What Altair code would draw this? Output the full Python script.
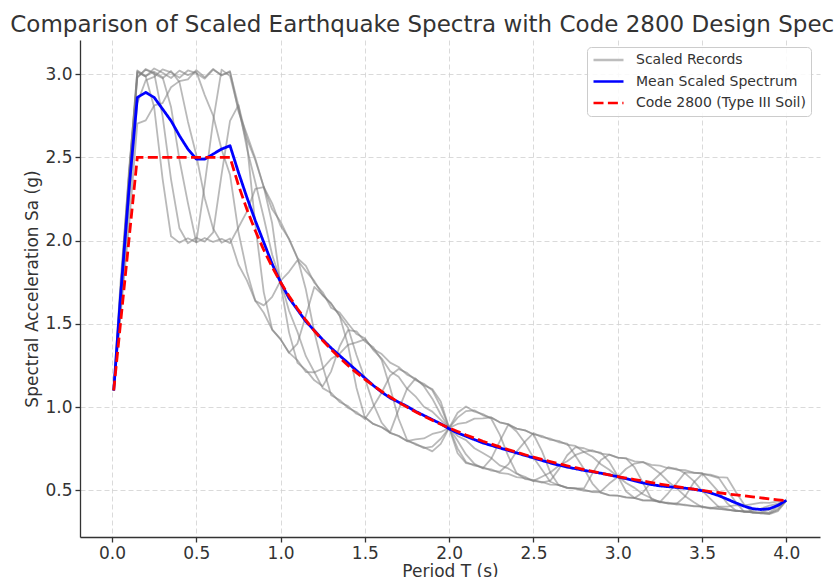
import altair as alt
import pandas as pd

# Periods (s) shared by all spectra
periods = [0.01, 0.05, 0.10, 0.15, 0.20, 0.25, 0.30, 0.35, 0.40, 0.45,
           0.50, 0.55, 0.60, 0.65, 0.70, 0.75, 0.80, 0.85, 0.90, 0.95,
           1.00, 1.05, 1.10, 1.15, 1.20, 1.25, 1.30, 1.35, 1.40, 1.45,
           1.50, 1.55, 1.60, 1.65, 1.70, 1.75, 1.80, 1.85, 1.90, 1.95,
           2.00, 2.05, 2.10, 2.15, 2.20, 2.25, 2.30, 2.35, 2.40, 2.45,
           2.50, 2.55, 2.60, 2.65, 2.70, 2.75, 2.80, 2.85, 2.90, 2.95,
           3.00, 3.05, 3.10, 3.15, 3.20, 3.25, 3.30, 3.35, 3.40, 3.45,
           3.50, 3.55, 3.60, 3.65, 3.70, 3.75, 3.80, 3.85, 3.90, 3.95,
           4.00]

# Scaled record spectra Sa (g)
record_1 = [1.100, 1.548, 2.081, 2.703, 2.722, 2.812, 2.826, 2.921, 2.958, 2.969,
            3.024, 2.981, 3.031, 2.992, 3.018, 2.776, 2.638, 2.494, 2.321, 2.188,
            2.114, 2.007, 1.894, 1.848, 1.747, 1.690, 1.597, 1.568, 1.502, 1.439,
            1.414, 1.343, 1.292, 1.216, 1.182, 1.111, 1.065, 1.002, 0.973, 0.923,
            0.875, 0.827, 0.802, 0.753, 0.724, 0.694, 0.650, 0.632, 0.600, 0.582,
            0.555, 0.551, 0.535, 0.533, 0.513, 0.510, 0.504, 0.489, 0.488, 0.470,
            0.469, 0.459, 0.455, 0.439, 0.440, 0.432, 0.421, 0.422, 0.410, 0.407,
            0.404, 0.394, 0.402, 0.403, 0.412, 0.410, 0.418, 0.426, 0.425, 0.434,
            0.438]
record_2 = [1.100, 1.562, 2.205, 2.826, 2.963, 2.984, 3.029, 3.011, 2.978, 3.022,
            3.006, 2.973, 3.027, 2.995, 3.012, 2.812, 2.556, 2.351, 2.139, 1.915,
            1.758, 1.579, 1.452, 1.306, 1.211, 1.114, 1.085, 1.031, 1.006, 0.960,
            0.939, 0.899, 0.879, 0.845, 0.826, 0.796, 0.806, 0.812, 0.839, 0.851,
            0.875, 0.899, 0.907, 0.931, 0.932, 0.938, 0.909, 0.898, 0.871, 0.861,
            0.837, 0.828, 0.803, 0.797, 0.774, 0.767, 0.731, 0.702, 0.657, 0.624,
            0.583, 0.544, 0.515, 0.477, 0.453, 0.428, 0.426, 0.415, 0.414, 0.404,
            0.402, 0.391, 0.391, 0.381, 0.380, 0.371, 0.382, 0.390, 0.409, 0.420,
            0.438]
record_3 = [1.100, 1.616, 2.258, 3.011, 2.986, 3.034, 3.008, 2.977, 3.021, 2.994,
            3.015, 2.874, 2.751, 2.547, 2.396, 2.052, 1.815, 1.639, 1.567, 1.465,
            1.408, 1.327, 1.281, 1.211, 1.209, 1.232, 1.290, 1.321, 1.374, 1.389,
            1.407, 1.349, 1.319, 1.267, 1.241, 1.195, 1.171, 1.126, 1.051, 0.956,
            0.875, 0.798, 0.716, 0.659, 0.633, 0.626, 0.605, 0.599, 0.580, 0.574,
            0.557, 0.582, 0.607, 0.648, 0.675, 0.713, 0.731, 0.741, 0.721, 0.715,
            0.697, 0.692, 0.674, 0.670, 0.640, 0.603, 0.552, 0.512, 0.465, 0.430,
            0.398, 0.396, 0.387, 0.386, 0.376, 0.375, 0.366, 0.368, 0.385, 0.414,
            0.438]
record_4 = [1.100, 1.628, 2.371, 2.982, 3.026, 3.003, 2.975, 3.019, 2.952, 2.716,
            2.514, 2.255, 2.072, 1.987, 2.013, 1.855, 1.761, 1.638, 1.611, 1.662,
            1.759, 1.813, 1.882, 1.817, 1.758, 1.672, 1.623, 1.549, 1.477, 1.313,
            1.172, 1.019, 0.906, 0.845, 0.828, 0.796, 0.781, 0.754, 0.763, 0.810,
            0.875, 0.937, 0.976, 0.981, 0.951, 0.937, 0.909, 0.897, 0.854, 0.784,
            0.697, 0.626, 0.552, 0.531, 0.516, 0.512, 0.497, 0.494, 0.494, 0.541,
            0.580, 0.630, 0.661, 0.670, 0.653, 0.649, 0.633, 0.630, 0.602, 0.557,
            0.498, 0.449, 0.399, 0.386, 0.376, 0.375, 0.366, 0.366, 0.368, 0.404,
            0.438]
record_5 = [1.100, 1.684, 2.386, 3.022, 2.989, 3.015, 2.981, 2.803, 2.486, 2.227,
            1.989, 2.016, 1.992, 2.011, 1.985, 2.079, 2.174, 2.311, 2.322, 2.224,
            2.089, 2.012, 1.897, 1.706, 1.451, 1.246, 1.071, 1.043, 0.995, 0.971,
            0.929, 1.004, 1.088, 1.189, 1.229, 1.206, 1.162, 1.140, 1.101, 1.005,
            0.875, 0.752, 0.670, 0.648, 0.639, 0.619, 0.612, 0.656, 0.733, 0.793,
            0.844, 0.820, 0.811, 0.789, 0.781, 0.706, 0.628, 0.541, 0.485, 0.472,
            0.469, 0.457, 0.454, 0.489, 0.550, 0.597, 0.639, 0.624, 0.621, 0.606,
            0.603, 0.547, 0.489, 0.422, 0.380, 0.371, 0.370, 0.362, 0.361, 0.390,
            0.438]
record_6 = [1.100, 1.692, 2.417, 2.979, 3.031, 3.006, 2.748, 2.368, 2.074, 1.984,
            2.017, 1.994, 2.049, 2.398, 2.719, 2.814, 2.611, 2.483, 2.324, 2.104,
            1.741, 1.449, 1.266, 1.224, 1.161, 1.126, 1.215, 1.364, 1.463, 1.455,
            1.394, 1.360, 1.281, 1.115, 0.930, 0.804, 0.775, 0.760, 0.734, 0.779,
            0.875, 0.966, 1.004, 0.973, 0.958, 0.930, 0.835, 0.707, 0.604, 0.568,
            0.563, 0.546, 0.558, 0.626, 0.711, 0.760, 0.753, 0.734, 0.727, 0.671,
            0.586, 0.493, 0.454, 0.442, 0.440, 0.429, 0.484, 0.544, 0.608, 0.606,
            0.602, 0.589, 0.574, 0.499, 0.431, 0.371, 0.370, 0.362, 0.361, 0.381,
            0.438]
record_7 = [1.100, 1.747, 2.386, 3.017, 2.984, 2.801, 2.371, 2.026, 1.988, 2.014,
            1.991, 2.339, 2.719, 3.027, 2.988, 2.789, 2.586, 2.097, 1.691, 1.466,
            1.407, 1.327, 1.382, 1.551, 1.722, 1.673, 1.621, 1.550, 1.372, 1.117,
            0.938, 0.899, 0.879, 0.850, 0.985, 1.110, 1.171, 1.131, 1.109, 1.034,
            0.875, 0.723, 0.664, 0.654, 0.633, 0.691, 0.794, 0.893, 0.871, 0.860,
            0.837, 0.737, 0.608, 0.531, 0.516, 0.512, 0.512, 0.602, 0.683, 0.715,
            0.697, 0.692, 0.638, 0.545, 0.448, 0.433, 0.422, 0.420, 0.464, 0.546,
            0.597, 0.595, 0.580, 0.576, 0.492, 0.415, 0.366, 0.366, 0.357, 0.375,
            0.438]

# Mean of the scaled records
mean_spectrum = [1.10, 1.66, 2.30, 2.86, 2.89, 2.86, 2.79, 2.72, 2.63, 2.55,
                 2.49, 2.49, 2.52, 2.55, 2.57, 2.41, 2.26, 2.12, 1.99, 1.86,
                 1.75, 1.655, 1.585, 1.515, 1.46, 1.405, 1.355, 1.31, 1.265, 1.22,
                 1.175, 1.13, 1.09, 1.055, 1.03, 1.005, 0.975, 0.95, 0.925, 0.90,
                 0.87, 0.845, 0.825, 0.805, 0.785, 0.77, 0.755, 0.74, 0.725, 0.71,
                 0.695, 0.68, 0.665, 0.652, 0.64, 0.63, 0.62, 0.612, 0.603, 0.593,
                 0.582, 0.57, 0.557, 0.545, 0.535, 0.527, 0.522, 0.518, 0.513, 0.507,
                 0.498, 0.485, 0.468, 0.447, 0.425, 0.405, 0.39, 0.385, 0.39, 0.41,
                 0.44]

# Code 2800 design spectrum, soil type III
code_periods = [0.01, 0.15] + periods[14:]
code_sa = [1.10, 2.50, 2.50, 2.333, 2.188, 2.059, 1.944, 1.842, 1.75, 1.667,
           1.591, 1.522, 1.458, 1.40, 1.346, 1.296, 1.25, 1.207, 1.167, 1.129,
           1.094, 1.061, 1.029, 1.0, 0.972, 0.946, 0.921, 0.897, 0.875, 0.854,
           0.833, 0.814, 0.795, 0.778, 0.761, 0.745, 0.729, 0.714, 0.70, 0.686,
           0.673, 0.660, 0.648, 0.636, 0.625, 0.614, 0.603, 0.593, 0.583, 0.574,
           0.565, 0.556, 0.547, 0.538, 0.530, 0.522, 0.515, 0.507, 0.50, 0.493,
           0.486, 0.479, 0.473, 0.467, 0.461, 0.455, 0.449, 0.443, 0.438]

series_names = ["Scaled Records", "Mean Scaled Spectrum", "Code 2800 (Type III Soil)"]
x_ticks = [0.0, 0.5, 1.0, 1.5, 2.0, 2.5, 3.0, 3.5, 4.0]
y_ticks = [0.5, 1.0, 1.5, 2.0, 2.5, 3.0]

records = [record_1, record_2, record_3, record_4, record_5, record_6, record_7]
rows = []
for i, rec in enumerate(records, start=1):
    for t, sa in zip(periods, rec):
        rows.append({"T": t, "Sa": sa, "record": f"R{i}", "series": series_names[0]})
df_records = pd.DataFrame(rows)
df_mean = pd.DataFrame({"T": periods, "Sa": mean_spectrum, "series": series_names[1]})
df_code = pd.DataFrame({"T": code_periods, "Sa": code_sa, "series": series_names[2]})

FONT = "DejaVu Sans"
TEXT = "#333333"

x_enc = alt.X("T:Q", title="Period T (s)",
              scale=alt.Scale(domain=[-0.19, 4.2], nice=False, zero=False),
              axis=alt.Axis(values=x_ticks, format=".1f"))
y_enc = alt.Y("Sa:Q", title="Spectral Acceleration Sa (g)",
              scale=alt.Scale(domain=[0.22, 3.205], nice=False, zero=False),
              axis=alt.Axis(values=y_ticks, format=".1f"))

legend = alt.Legend(title=None, orient="none", legendX=507, legendY=7,
                    symbolType="stroke", symbolSize=900, symbolStrokeWidth=2.6,
                    labelFont=FONT, labelFontSize=14, labelColor=TEXT, labelLimit=0,
                    labelOffset=11, clipHeight=16, rowPadding=5.5, padding=5,
                    fillColor="rgba(255,255,255,0.85)", strokeColor="#cccccc",
                    cornerRadius=4)
color_enc = alt.Color("series:N", legend=legend,
                      scale=alt.Scale(domain=series_names,
                                      range=["#bdbdbd", "#0000ff", "#ff0000"]))
dash_enc = alt.StrokeDash("series:N", legend=legend,
                          scale=alt.Scale(domain=series_names,
                                          range=[[1, 0], [1, 0], [10, 4.4]]))

# Records share the legend entry through the scale domain; drawn in translucent gray
records_layer = alt.Chart(df_records).mark_line(
    stroke="#808080", strokeWidth=1.8, strokeJoin="round", opacity=0.55
).encode(x=x_enc, y=y_enc, detail="record:N")
mean_layer = alt.Chart(df_mean).mark_line(strokeWidth=2.8, strokeJoin="round").encode(
    x=x_enc, y=y_enc, color=color_enc, strokeDash=dash_enc)
code_layer = alt.Chart(df_code).mark_line(strokeWidth=2.8).encode(
    x=x_enc, y=y_enc, color=color_enc, strokeDash=dash_enc)

chart = alt.layer(records_layer, mean_layer, code_layer).properties(
    width=740, height=497,
    title=alt.TitleParams("Comparison of Scaled Earthquake Spectra with Code 2800 Design Spectrum",
                          font=FONT, fontSize=23, fontWeight="normal", color=TEXT,
                          anchor="middle", offset=3),
    autosize=alt.AutoSizeParams(type="none"),
    padding={"left": 80, "top": 40, "right": 14, "bottom": 40},
).configure_view(stroke=None).configure_axis(
    domainColor=TEXT, domainWidth=1.3, tickColor=TEXT, tickWidth=1.3, tickSize=5,
    labelFont=FONT, labelFontSize=17, labelColor=TEXT, labelPadding=3,
    titleFont=FONT, titleFontSize=17, titleColor=TEXT, titleFontWeight="normal",
    gridColor="#d0d0d0", gridDash=[5, 3], gridWidth=0.8,
).configure_axisX(titlePadding=2).configure_axisY(titlePadding=3)

chart.save("out.html", embed_options={"renderer": "svg", "actions": False})
